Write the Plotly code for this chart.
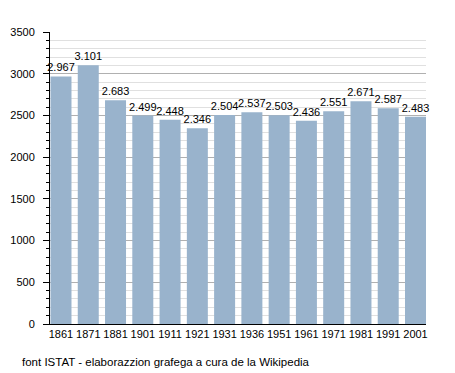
import plotly.graph_objects as go

years = ["1861", "1871", "1881", "1901", "1911", "1921", "1931", "1936", "1951", "1961", "1971", "1981", "1991", "2001"]
population = [2967, 3101, 2683, 2499, 2448, 2346, 2504, 2537, 2503, 2436, 2551, 2671, 2587, 2483]
labels = [f"{v:,}".replace(",", ".") for v in population]
y_ticks = [0, 500, 1000, 1500, 2000, 2500, 3000, 3500]

fig = go.Figure(go.Bar(
    x=years, y=population, text=labels, textposition="outside",
    marker=dict(color="#99b3cc", line=dict(width=0)),
    textfont=dict(size=11, color="black"), cliponaxis=False,
    constraintext="none",
))

fig.update_layout(
    width=447, height=365,
    margin=dict(l=42, r=29, t=24, b=49, autoexpand=False),
    paper_bgcolor="white", plot_bgcolor="white",
    font=dict(family="Liberation Sans, Arial, sans-serif", size=11, color="black"),
    bargap=0.23, showlegend=False,
    annotations=[dict(text="font ISTAT - elaborazzion grafega a cura de la Wikipedia",
                      xref="paper", yref="paper", x=-42/376, y=-38/292,
                      xanchor="left", yanchor="middle", showarrow=False,
                      font=dict(size=11.5, color="black"), xshift=12)],
)
fig.update_yaxes(
    range=[0, 3500], tickvals=y_ticks, showgrid=True, gridcolor="#b0b0b0", gridwidth=1,
    showline=True, linecolor="black", linewidth=1, ticks="outside", ticklen=6, tickcolor="black",
    ticklabelstandoff=6, automargin=False,
    minor=dict(dtick=100, showgrid=True, gridcolor="#e0e0e0", ticks="outside", ticklen=3, tickcolor="black"),
    zeroline=False, tickfont=dict(size=11),
)
fig.update_xaxes(
    range=[-0.403, 13.385], automargin=False,
    showline=True, linecolor="black", linewidth=1, ticks="", tickfont=dict(size=11),
)

fig.write_html("out.html")
